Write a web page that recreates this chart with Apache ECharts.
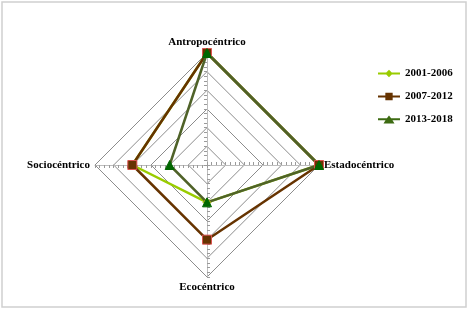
<!DOCTYPE html>
<html><head><meta charset="utf-8">
<script src="https://cdn.jsdelivr.net/npm/echarts@6/dist/echarts.min.js"></script>
<style>html,body{margin:0;padding:0;background:#fff}#c{width:468px;height:311px}</style>
</head><body><div id="c"></div>
<script>
// indicator order runs counter-clockwise from the top
var indicators = ['Antropocéntrico', 'Sociocéntrico', 'Ecocéntrico', 'Estadocéntrico'];
var axisMax = 6;
var seriesNames = ['2001-2006', '2007-2012', '2013-2018'];
var v2001 = [6, 4, 2, 6];
var v2007 = [6, 4, 4, 6];
var v2013 = [6, 2, 2, 6];

var chart = echarts.init(document.getElementById('c'), null, {renderer: 'canvas'});
var font = '"Liberation Serif", "Times New Roman", serif';
var ind = indicators.map(function (n) { return {name: n, max: axisMax, min: 0}; });
var ind2 = indicators.map(function (n) { return {name: '', max: axisMax, min: 0}; });
function tickRadar(inside) {
  return {
    center: [207, 165], radius: 112, startAngle: 90, shape: 'polygon',
    splitNumber: 24, indicator: ind2,
    axisName: {show: false},
    axisLine: {show: false}, splitLine: {show: false}, splitArea: {show: false},
    axisTick: {show: true, length: 3, inside: inside, lineStyle: {color: '#9a9a9a', width: 1}}
  };
}
var iconDiamond = 'path://M0,3H9L12,0L15,3H24V5H15L12,8L9,5H0Z';
var iconRect = 'path://M0,3H8V0H16V3H24V5H16V8H8V5H0Z';
var iconTri = 'path://M0,3H9.7L12,0L14.3,3H24V5H15.8L18,8.5H6L8.2,5H0Z';
var option = {
  animation: false,
  backgroundColor: '#fff',
  graphic: [{type: 'rect', shape: {x: 2, y: 2, width: 464, height: 305}, style: {fill: 'none', stroke: '#d0d0d0', lineWidth: 1.5}}],
  legend: {
    orient: 'vertical', left: 373, top: 63, itemGap: 12, itemWidth: 22, itemHeight: 8,
    data: [
      {name: '2001-2006', icon: iconDiamond, itemStyle: {color: '#99cc00', borderWidth: 0}},
      {name: '2007-2012', icon: iconRect, itemStyle: {color: '#663300', borderWidth: 0}},
      {name: '2013-2018', icon: iconTri, itemStyle: {color: '#3d6b12', borderWidth: 0}}
    ],
    textStyle: {fontFamily: font, fontWeight: 'bold', fontSize: 11, color: '#000'}
  },
  radar: [{
    center: [207, 165], radius: 112, startAngle: 90, shape: 'polygon',
    splitNumber: 6, indicator: ind, nameGap: 5,
    axisName: {color: '#000', fontFamily: font, fontWeight: 'bold', fontSize: 11},
    axisLine: {lineStyle: {color: '#bdbdbd', width: 1}},
    splitLine: {lineStyle: {color: '#8c8c8c', width: 1}},
    splitArea: {show: false}
  }, tickRadar(false), tickRadar(true)],
  series: [
    {name: '2001-2006', type: 'radar', radarIndex: 0, symbol: 'diamond', symbolSize: 8,
     lineStyle: {color: '#99cc00', width: 2.5}, itemStyle: {color: '#99cc00', borderColor: '#a0a020', borderWidth: 1},
     data: [{name: '2001-2006', value: v2001}]},
    {name: '2007-2012', type: 'radar', radarIndex: 0, symbol: 'rect', symbolSize: 9,
     lineStyle: {color: '#663300', width: 2.5}, itemStyle: {color: '#663300', borderColor: '#d9534f', borderWidth: 1},
     data: [{name: '2007-2012', value: v2007}]},
    {name: '2013-2018', type: 'radar', radarIndex: 0, symbol: 'triangle', symbolSize: 9,
     lineStyle: {color: '#4f6228', width: 2.5}, itemStyle: {color: '#006600', borderColor: '#006600', borderWidth: 1},
     data: [{name: '2013-2018', value: v2013}]}
  ]
};
chart.setOption(option);
</script></body></html>
